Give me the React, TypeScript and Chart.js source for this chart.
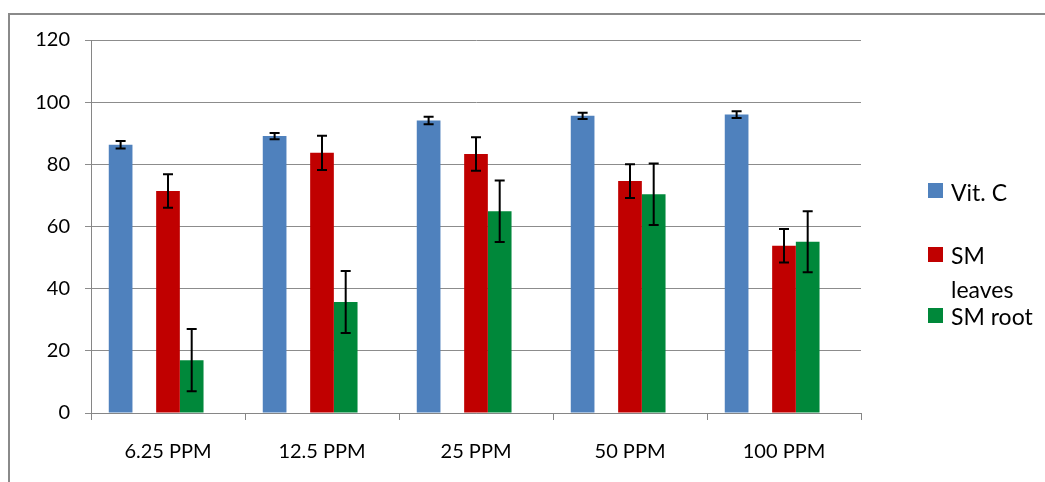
import React, { useEffect, useRef } from "react";
import { Chart, registerables } from "chart.js";

Chart.register(...registerables);

const categories = ["6.25 PPM", "12.5 PPM", "25 PPM", "50 PPM", "100 PPM"];
const vitC = [86.3, 89.1, 94.1, 95.6, 96.0];
const vitCErr = [1.2, 1.0, 1.2, 1.0, 1.1];
const smLeaves = [71.4, 83.7, 83.3, 74.6, 53.8];
const smLeavesErr = [5.4, 5.5, 5.4, 5.4, 5.4];
const smRoot = [17.0, 35.7, 64.9, 70.4, 55.1];
const smRootErr = [10.0, 10.0, 9.9, 9.9, 9.8];
const blank = [null, null, null, null, null];
const yTicks = [0, 20, 40, 60, 80, 100, 120];

const BLUE = "#4F81BD";
const RED = "#C00000";
const GREEN = "#00883A";
const FONT = "Lato, 'Open Sans', sans-serif";

const errorBarPlugin = {
  id: "errorBars",
  afterDatasetsDraw(chart: any) {
    const ctx = chart.ctx;
    const yScale = chart.scales.y;
    chart.data.datasets.forEach((ds: any, di: number) => {
      if (!ds.errors) return;
      const meta = chart.getDatasetMeta(di);
      meta.data.forEach((bar: any, i: number) => {
        const v = ds.data[i];
        const e = ds.errors[i];
        if (v == null || e == null) return;
        const x = bar.x;
        const yHi = yScale.getPixelForValue(v + e);
        const yLo = yScale.getPixelForValue(v - e);
        const cap = 5;
        ctx.save();
        ctx.strokeStyle = "#000";
        ctx.lineWidth = 2;
        ctx.beginPath();
        ctx.moveTo(x, yHi);
        ctx.lineTo(x, yLo);
        ctx.moveTo(x - cap, yHi);
        ctx.lineTo(x + cap, yHi);
        ctx.moveTo(x - cap, yLo);
        ctx.lineTo(x + cap, yLo);
        ctx.stroke();
        ctx.restore();
      });
    });
  },
};

export default function App() {
  const ref = useRef<HTMLCanvasElement | null>(null);

  useEffect(() => {
    if (!ref.current) return;
    const chart = new Chart(ref.current, {
      type: "bar",
      data: {
        labels: categories,
        datasets: [
          { label: "Vit. C", data: vitC, backgroundColor: BLUE, errors: vitCErr } as any,
          { label: "", data: blank as any, backgroundColor: "transparent" },
          { label: "SM leaves", data: smLeaves, backgroundColor: RED, errors: smLeavesErr } as any,
          { label: "SM root", data: smRoot, backgroundColor: GREEN, errors: smRootErr } as any,
          { label: "", data: blank as any, backgroundColor: "transparent" },
        ],
      },
      options: {
        responsive: false,
        animation: false,
        layout: { padding: { left: 0, top: 40, right: 184, bottom: 0 } },
        datasets: {
          bar: { categoryPercentage: 5 / 6.5, barPercentage: 1 },
        } as any,
        plugins: {
          legend: { display: false },
          tooltip: { enabled: false },
        },
        scales: {
          x: {
            grid: {
              display: true,
              drawOnChartArea: false,
              drawTicks: true,
              tickLength: 7,
              color: "#868686",
              offset: true,
            },
            border: { display: true, color: "#868686", width: 1 },
            ticks: {
              color: "#000",
              font: { family: FONT, size: 20 },
              padding: 20,
            },
            afterFit: (scale: any) => {
              scale.height = 69;
            },
          },
          y: {
            min: 0,
            max: 120,
            afterBuildTicks: (scale: any) => {
              scale.ticks = yTicks.map((v) => ({ value: v }));
            },
            grid: {
              color: "#8c8c8c",
              lineWidth: 1,
              drawTicks: true,
              tickLength: 6,
            },
            border: { display: true, color: "#868686", width: 1 },
            ticks: {
              color: "#000",
              font: { family: FONT, size: 20 },
              padding: 15,
            },
            afterFit: (scale: any) => {
              scale.width = 91;
            },
          },
        },
      },
      plugins: [errorBarPlugin],
    });
    return () => chart.destroy();
  }, []);

  const legendText: React.CSSProperties = {
    position: "absolute",
    left: 951,
    fontFamily: FONT,
    fontSize: 23,
    color: "#000",
    lineHeight: "34px",
    whiteSpace: "nowrap",
  };
  const marker = (top: number, color: string): React.CSSProperties => ({
    position: "absolute",
    left: 928,
    top,
    width: 15,
    height: 15,
    background: color,
  });

  return (
    <div style={{ position: "fixed", left: 0, top: 0, width: 1045, height: 482, background: "#fff", overflow: "hidden" }}>
      <div
        style={{
          position: "absolute",
          left: 8,
          top: 13,
          width: 1045,
          height: 482,
          borderTop: "2.5px solid #8a8a8a",
          borderLeft: "2.5px solid #8a8a8a",
          boxSizing: "border-box",
        }}
      />
      <canvas ref={ref} width={1045} height={482} style={{ position: "absolute", left: 0, top: 0 }} />
      <div style={marker(183, BLUE)} />
      <div style={{ ...legendText, top: 175 }}>Vit. C</div>
      <div style={marker(247, RED)} />
      <div style={{ ...legendText, top: 238 }}>
        SM
        <br />
        leaves
      </div>
      <div style={marker(308, GREEN)} />
      <div style={{ ...legendText, top: 299 }}>SM root</div>
    </div>
  );
}
